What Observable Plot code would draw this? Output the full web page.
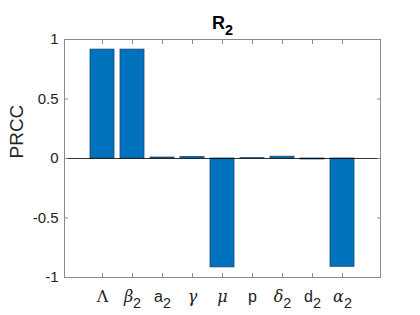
<!DOCTYPE html>
<html>
<head>
<meta charset="utf-8">
<script src="https://cdn.jsdelivr.net/npm/d3@7"></script>
<script src="https://cdn.jsdelivr.net/npm/@observablehq/plot@0.6"></script>
<style>
  html, body { margin: 0; padding: 0; background: #fff; }
  svg { display: block; }
</style>
</head>
<body>
<div id="chart"></div>
<script>
// Parameter names (base symbol + subscript) and PRCC values
const params = ["Lambda", "beta2", "a2", "gamma", "mu", "p", "delta2", "d2", "alpha2"];
const symbols = ["Λ", "β", "a", "γ", "μ", "p", "δ", "d", "α"];
const subscripts = ["", "2", "2", "", "", "", "2", "2", "2"];
const greek = [true, true, false, true, true, false, true, false, true];
const prcc = [0.915, 0.915, 0.008, 0.012, -0.915, 0.003, 0.015, -0.008, -0.91];
const yTicks = [-1, -0.5, 0, 0.5, 1];
const titleBase = "R";
const titleSub = "2";
const yLabel = "PRCC";

const data = params.map((p, i) => ({param: p, value: prcc[i]}));

const font = "'Liberation Sans', Arial, Helvetica, sans-serif";
const boxColor = "#8a8a8a";

const chart = Plot.plot({
  width: 420,
  height: 315,
  marginLeft: 64,
  marginRight: 40,
  marginTop: 39,
  marginBottom: 38,
  style: {fontFamily: font, fontSize: "14px", background: "#fff", color: "#222"},
  x: {domain: params, paddingInner: 0.2, paddingOuter: 0.8, label: null},
  y: {domain: [-1, 1], label: null},
  marks: [
    Plot.barY(data, {x: "param", y: "value", fill: "#0072BD", stroke: "#15466f", strokeWidth: 0.8}),
    Plot.ruleY([0], {stroke: "#000", strokeWidth: 0.8}),
    Plot.frame({stroke: boxColor, strokeWidth: 1}),
    Plot.axisX({anchor: "bottom", tickSize: -4, tickPadding: 17, stroke: boxColor, tickFormat: (d) => d, fontSize: 16, fill: "#222"}),
    Plot.axisX({anchor: "top", tickSize: -4, stroke: boxColor, tickFormat: () => ""}),
    Plot.axisY({anchor: "left", ticks: yTicks, tickSize: -4, tickPadding: 10, stroke: boxColor, tickFormat: (d) => String(d), fontSize: 15}),
    Plot.axisY({anchor: "right", ticks: yTicks, tickSize: -4, stroke: boxColor, tickFormat: () => ""}),
    Plot.text([yLabel], {frameAnchor: "left", dx: -48, rotate: -90, text: (d) => d, fontSize: 19, fill: "#222"}),
    Plot.text([titleBase], {frameAnchor: "top", dy: -23, text: (d) => d, fontSize: 18, fontWeight: "bold", fill: "#000", className: "chart-title"})
  ]
});

document.getElementById("chart").appendChild(chart);

// Rich tick labels: Greek in italic serif (TeX-style), subscripts lowered
const svg = d3.select(chart);
svg.selectAll("[aria-label='x-axis tick label'] text").each(function() {
  const t = d3.select(this);
  const name = t.text().trim();
  const idx = params.indexOf(name);
  if (idx < 0) return;
  t.text(null);
  const base = t.append("tspan").text(symbols[idx]);
  if (greek[idx]) {
    base.attr("font-family", "'DejaVu Serif', 'Liberation Serif', serif")
        .attr("font-style", symbols[idx] === "Λ" ? "normal" : "italic");
  }
  if (subscripts[idx]) {
    t.append("tspan").attr("dy", "0.4em").attr("font-size", "0.9em").text(subscripts[idx]);
  }
});
svg.selectAll(".chart-title text").each(function() {
  const t = d3.select(this);
  t.append("tspan").attr("dy", "0.4em").attr("font-size", "0.8em").text(titleSub);
});
</script>
</body>
</html>
